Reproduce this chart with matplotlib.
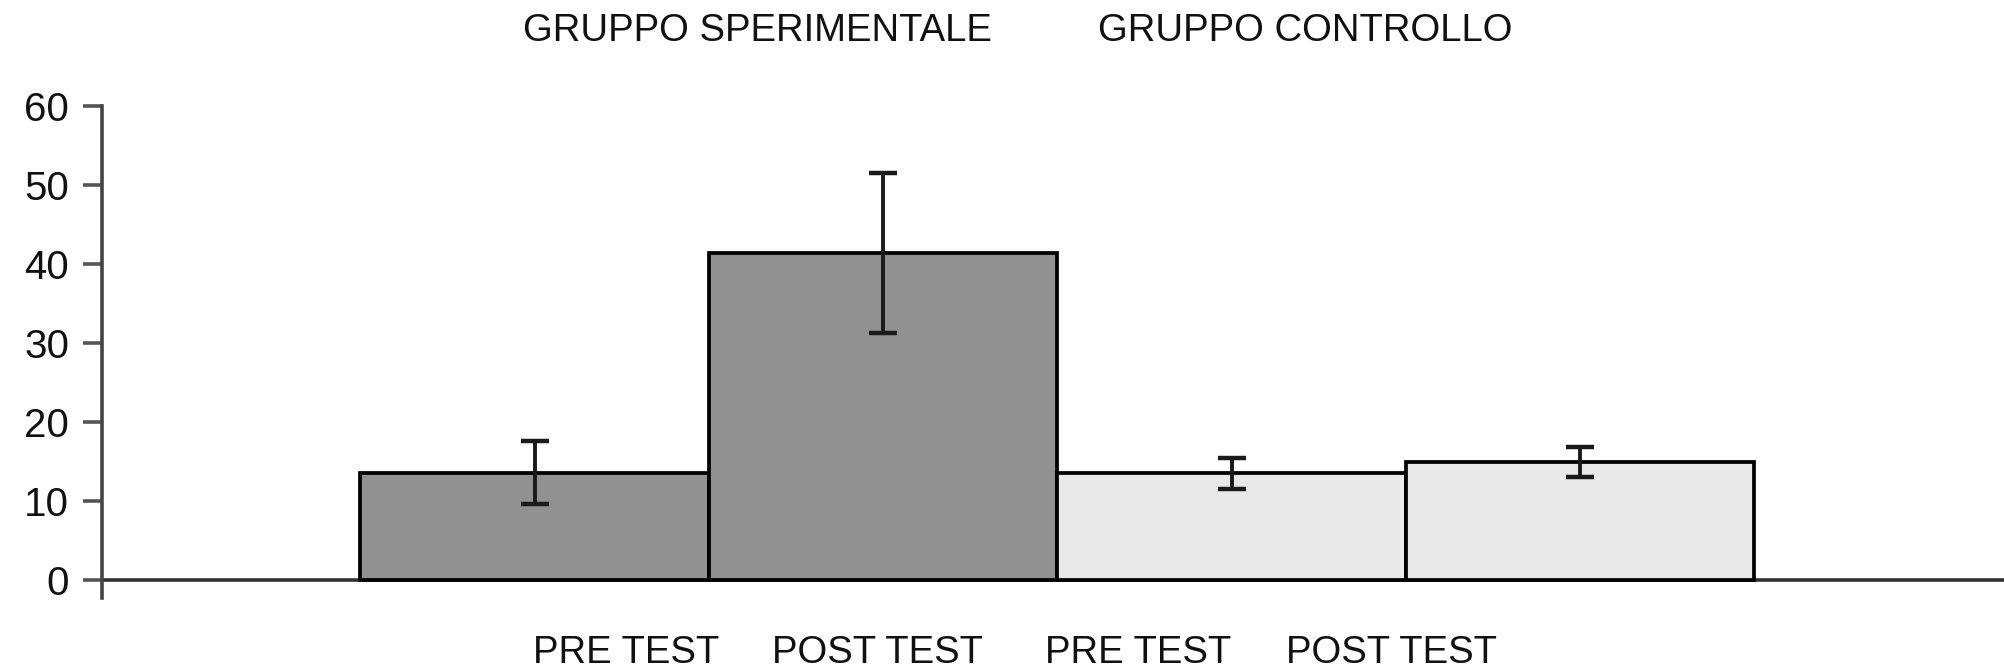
import numpy as np
import matplotlib
matplotlib.use('Agg')
import matplotlib.pyplot as plt

plt.rcParams['font.family'] = ['Liberation Sans', 'DejaVu Sans']

# data
conditions = ['PRE TEST', 'POST TEST', 'PRE TEST', 'POST TEST']
means = [13.6, 41.4, 13.5, 14.9]
errors = [4.0, 10.1, 2.0, 1.9]
groups = ['GRUPPO SPERIMENTALE', 'GRUPPO CONTROLLO']
bar_colors = ['#919191', '#919191', '#e9e9e9', '#e9e9e9']
yticks = [0, 10, 20, 30, 40, 50, 60]

W, H = 2004, 671
fig = plt.figure(figsize=(W / 100, H / 100), dpi=100)
ax = fig.add_axes([101.6 / W, 1 - 599.8 / H, 1 - 101.6 / W, (599.8 - 105.8) / H])

x = np.arange(len(means))
ax.bar(x, means, width=1.0, color=bar_colors, edgecolor='black', linewidth=2.7, zorder=3)
ax.errorbar(x, means, yerr=errors, fmt='none', ecolor='#1a1a1a', elinewidth=2.8,
            capsize=10, capthick=3.2, zorder=4)

ax.set_xlim(-1.2426, 4.216)
ax.set_ylim(-2.5, 60)
ax.axhline(0, color='#333333', linewidth=2.6, zorder=2)

for s in ['top', 'right', 'bottom']:
    ax.spines[s].set_visible(False)
ax.spines['left'].set_bounds(-2.3, 60)
ax.spines['left'].set_linewidth(2.6)
ax.spines['left'].set_color('#444444')

ax.set_yticks(yticks)
ax.set_yticklabels([str(t) for t in yticks], fontsize=29, color='#111111')
ax.tick_params(axis='y', length=13.5, width=2.6, color='#555555', pad=10)
ax.set_xticks([])

# group headers and condition labels (separate text rows, as in the original)
header_x = [757, 1305]
for lbl, px in zip(groups, header_x):
    fig.text(px / W, 1 - 31 / H, lbl, ha='center', va='center', fontsize=27.5, color='#111111')

label_x = [626, 877, 1138, 1391]
for lbl, px in zip(conditions, label_x):
    fig.text(px / W, 1 - 653 / H, lbl, ha='center', va='center', fontsize=27.5, color='#111111')

fig.savefig('out.png', dpi=100)
